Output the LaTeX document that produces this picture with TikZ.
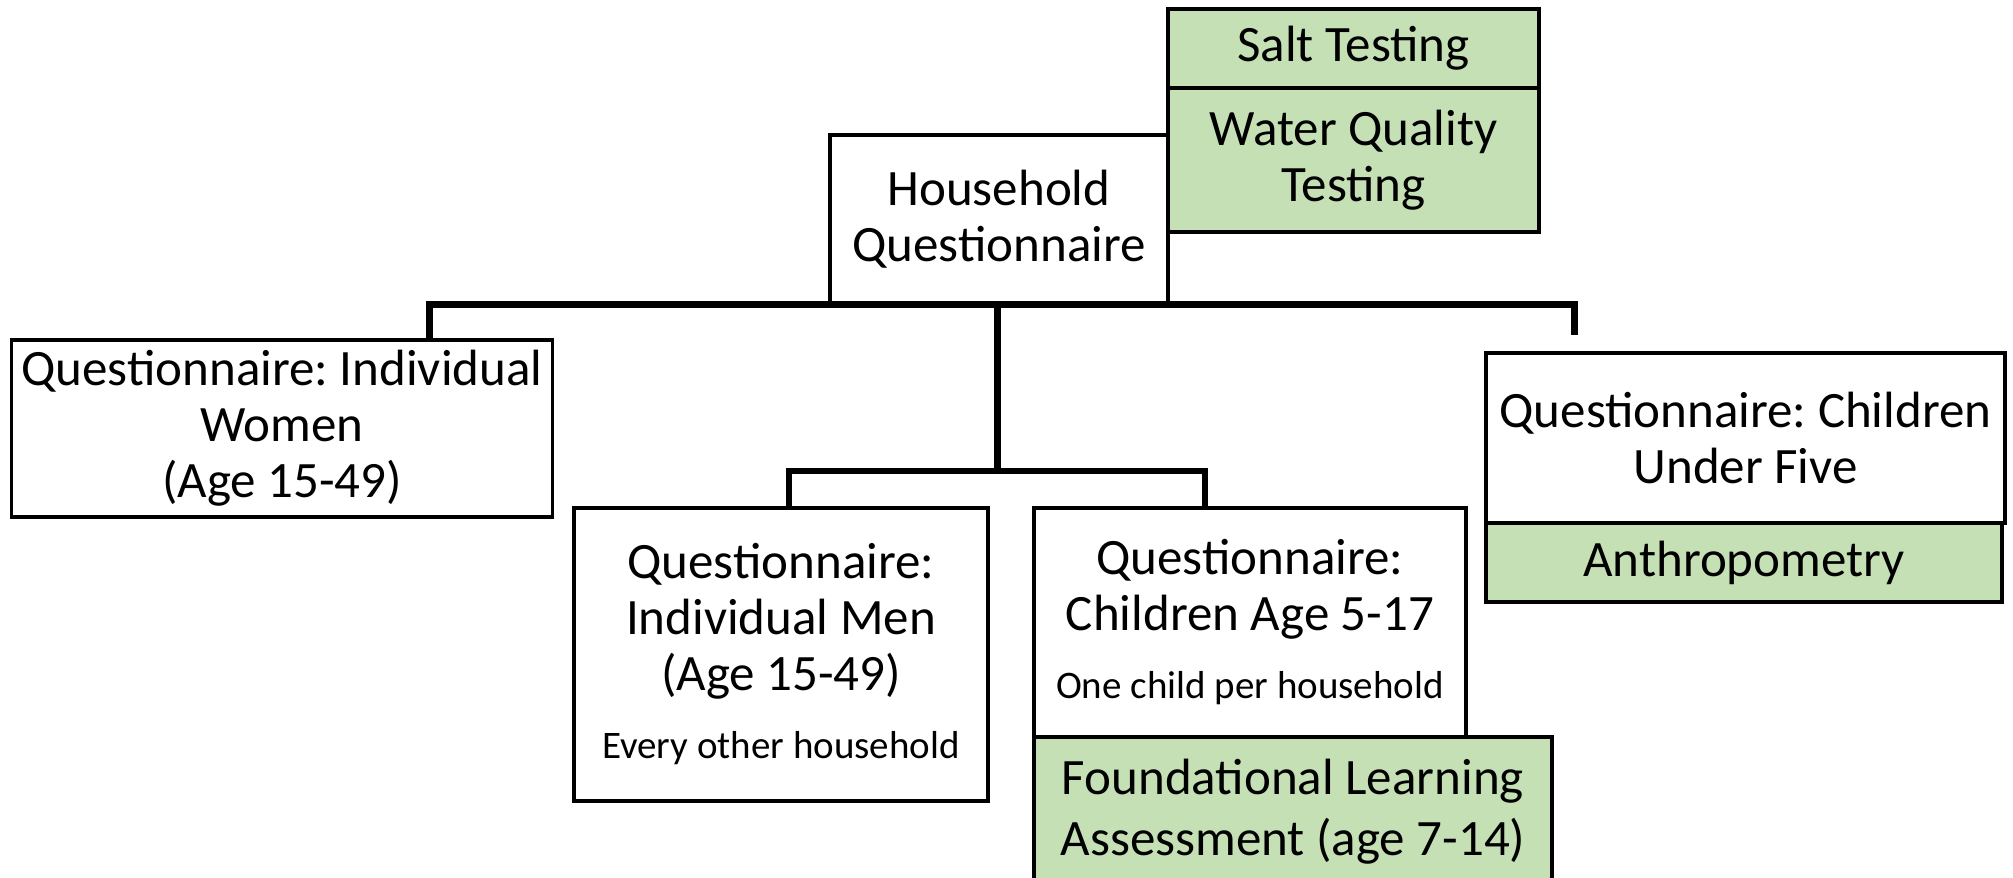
\documentclass[tikz,border=0pt]{standalone}
\usepackage{fontspec}
\setmainfont{Carlito}
\definecolor{boxgreen}{RGB}{197,224,180}
\newcommand\smalltxt[1]{{\fontsize{39}{56}\selectfont #1}}
\tikzset{
  box/.style={draw=black, line width=3.5pt, fill=white, inner sep=0pt, align=center,
              font=\fontsize{51}{56}\selectfont},
  gbox/.style={box, fill=boxgreen},
  bar/.style={draw=black, line width=7pt, line join=miter},
  bartwo/.style={draw=black, line width=5.5pt, line join=miter}
}
\begin{document}
\frenchspacing
\begin{tikzpicture}[x=1pt,y=-1pt]
\useasboundingbox (0,0) rectangle (2013,878);
\clip (0,0) rectangle (2013,878);
\fill[white] (0,0) rectangle (2013,878);
% boxes
\node[gbox, minimum width=371pt, minimum height=79pt] (salt) at (1353.5,48.5) {Salt Testing};
\node[gbox, minimum width=371pt, minimum height=144pt] (water) at (1353.5,160) {Water Quality\\Testing};
\node[box, minimum width=338pt, minimum height=168pt] (house) at (999,219) {Household\\Questionnaire};
\node[box, minimum width=541pt, minimum height=177pt] (women) at (282,428.5) {Questionnaire: Individual\\Women\\(Age 15-49)};
\node[box, minimum width=414pt, minimum height=293pt] (men) at (781,654.5) {Questionnaire:\\Individual Men\\(Age 15-49)\\[12pt]\smalltxt{Every other household}};
\node[box, minimum width=432pt, minimum height=229pt] (kids) at (1250,622.5) {Questionnaire:\\Children Age 5-17\\[12pt]\smalltxt{One child per household}};
\node[gbox, minimum width=518pt, minimum height=150pt, font=\fontsize{51}{61}\selectfont] (fla) at (1293,812) {Foundational Learning\\Assessment (age 7-14)};
\node[box, minimum width=519pt, minimum height=170pt] (under) at (1745.5,438) {Questionnaire: Children\\Under Five};
\node[gbox, minimum width=516pt, minimum height=79pt] (anthro) at (1744,562.5) {Anthropometry};
% junctions
\coordinate (jw) at (429,304);
\coordinate (ju) at (1574,304);
\coordinate (uend) at (1574,335);
\coordinate (jc) at (997,304);
\coordinate (jc2) at (997,471);
\coordinate (jm) at (789,471);
\coordinate (jk) at (1205,471);
% connectors
\draw[bar] (women.north -| jw) -- (jw) -- (ju) -- (uend);
\draw[bar] (house.south -| jc) -- (jc2);
\draw[bartwo] (men.north -| jm) -- (jm) -- (jk) -- (kids.north -| jk);
\end{tikzpicture}
\end{document}
